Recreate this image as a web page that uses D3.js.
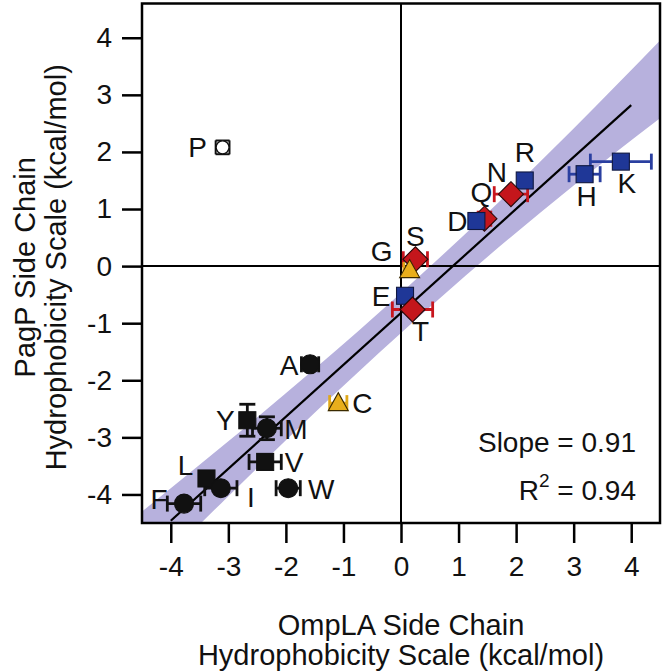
<!DOCTYPE html>
<html><head><meta charset="utf-8">
<script src="https://cdn.jsdelivr.net/npm/d3@7"></script>
<style>body{margin:0;background:#fff}svg{display:block;font-family:"Liberation Sans",Arial,sans-serif}</style>
</head><body>
<svg id="c" width="664" height="671"></svg>
<script>
// ---- data ----
const residues = ["P","R","N","Q","D","H","K","S","G","E","T","A","C","Y","M","V","W","L","I","F"];
const omplaScale = [-3.10, 2.15, 1.91, 1.45, 1.31, 3.19, 3.82, 0.25, 0.15, 0.07, 0.20, -1.58, -1.09, -2.67, -2.33, -2.36, -1.96, -3.38, -3.13, -3.77];
const pagpScale  = [2.08, 1.50, 1.26, 0.83, 0.79, 1.61, 1.83, 0.12, -0.07, -0.52, -0.76, -1.72, -2.40, -2.70, -2.84, -3.43, -3.89, -3.72, -3.89, -4.16];
const omplaErr   = [0.12, 0, 0.29, 0.11, 0.10, 0.27, 0.53, 0.21, 0.10, 0, 0.35, 0.15, 0.15, 0.10, 0.25, 0.28, 0.21, 0.10, 0.28, 0.29];
const pagpErr    = [0.12, 0, 0, 0, 0, 0, 0, 0, 0, 0, 0, 0, 0, 0.28, 0.20, 0, 0, 0, 0, 0];
const groups     = ["open","charged","polar","polar","charged","charged","charged","polar","small","charged","polar","aroCircle","small","aroSquare","aroCircle","aroSquare","aroCircle","aroSquare","aroCircle","aroCircle"];
const fitX = [-4.5, 4.5];
const fitY = [-4.915, 3.275];
const fitDrawX = [-4.0, 4.0];
const bandX  = [-4.5, -3.0, -1.5, 0.0, 1.5, 3.0, 4.5];
const bandHi = [-4.30, -3.07, -1.80, -0.47, 0.93, 2.41, 3.95];
const bandLo = [-5.53, -4.03, -2.57, -1.17, 0.16, 1.41, 2.59];
const xTicks = [-4,-3,-2,-1,0,1,2,3,4];
const yTicks = [-4,-3,-2,-1,0,1,2,3,4];
const slopeText = "Slope = 0.91";
const r2Value = "0.94";
// label offsets (layout, px)
const labelOffsets = [[-25,0],[0,-28],[-14,-22],[-3,-26],[-19,0],[2,22],[6,22],[0,-23],[-28,-19],[-24,1],[8,22],[-21,1],[24,0],[-22,0],[29,1],[29,1],[33,1],[-21,-13],[30,9],[-25,-4]];

// ---- styles ----
const style = {
  charged:{shape:"square", fill:"#1f3797", stroke:"#101840", err:"#2a3fa0"},
  polar:{shape:"diamond", fill:"#c4161c", stroke:"#2a0a0a", err:"#c8161e"},
  small:{shape:"triangle", fill:"#e8ae1c", stroke:"#3a2a00", err:"#e0a81a"},
  aroCircle:{shape:"circle", fill:"#111", stroke:"#111", err:"#111"},
  aroSquare:{shape:"square", fill:"#111", stroke:"#111", err:"#111"},
  open:{shape:"circleOpen", fill:"#fff", stroke:"#111", err:"#111"}
};

const svg = d3.select("#c");
const x = d3.scaleLinear().domain([-4.5, 4.5]).range([142, 660]);
const y = d3.scaleLinear().domain([-4.5, 4.6]).range([523, 3.5]);
const FS = 28;
const TFS = 29;

const defs = svg.append("defs");
defs.append("clipPath").attr("id","clip").append("rect")
  .attr("x",x(-4.5)).attr("y",y(4.6)).attr("width",x(4.5)-x(-4.5)).attr("height",y(-4.5)-y(4.6));

const plot = svg.append("g").attr("clip-path","url(#clip)");

// band
const bandData = bandX.map((v,i)=>({x:v,lo:bandLo[i],hi:bandHi[i]}));
plot.append("path").datum(bandData)
  .attr("d", d3.area().x(d=>x(d.x)).y0(d=>y(d.lo)).y1(d=>y(d.hi)).curve(d3.curveMonotoneX))
  .attr("fill","#b7b1dd");

// zero lines
plot.append("line").attr("x1",x(0)).attr("x2",x(0)).attr("y1",y(4.6)).attr("y2",y(-4.5)).attr("stroke","#000").attr("stroke-width",2);
plot.append("line").attr("x1",x(-4.5)).attr("x2",x(4.5)).attr("y1",y(0)).attr("y2",y(0)).attr("stroke","#000").attr("stroke-width",2);

// fit line
const fitSlope = (fitY[1]-fitY[0])/(fitX[1]-fitX[0]);
const fitAt = v => fitY[0] + fitSlope*(v-fitX[0]);
plot.append("line")
  .attr("x1",x(fitDrawX[0])).attr("y1",y(fitAt(fitDrawX[0])))
  .attr("x2",x(fitDrawX[1])).attr("y2",y(fitAt(fitDrawX[1])))
  .attr("stroke","#000").attr("stroke-width",2.2);

const pts = residues.map((r,i)=>({r,x:omplaScale[i],y:pagpScale[i],ex:omplaErr[i],ey:pagpErr[i],g:groups[i],off:labelOffsets[i]}));

// error bars
const CAP = 8;
const eg = svg.append("g");
pts.forEach(p=>{
  const s = style[p.g];
  const cx = x(p.x), cy = y(p.y);
  const sw = p.g==="open" ? 2 : 2.8;
  const cap = p.g==="open" ? 7 : CAP;
  if (p.ex>0){
    const x1=x(p.x-p.ex), x2=x(p.x+p.ex);
    eg.append("line").attr("x1",x1).attr("x2",x2).attr("y1",cy).attr("y2",cy).attr("stroke",s.err).attr("stroke-width",sw);
    [x1,x2].forEach(xx=>eg.append("line").attr("x1",xx).attr("x2",xx).attr("y1",cy-cap).attr("y2",cy+cap).attr("stroke",s.err).attr("stroke-width",sw));
  }
  if (p.ey>0){
    const y1=y(p.y-p.ey), y2=y(p.y+p.ey);
    eg.append("line").attr("x1",cx).attr("x2",cx).attr("y1",y1).attr("y2",y2).attr("stroke",s.err).attr("stroke-width",sw);
    [y1,y2].forEach(yy=>eg.append("line").attr("x1",cx-cap).attr("x2",cx+cap).attr("y1",yy).attr("y2",yy).attr("stroke",s.err).attr("stroke-width",sw));
  }
});

// markers
const mg = svg.append("g");
pts.forEach(p=>{
  const s = style[p.g];
  const cx = x(p.x), cy = y(p.y);
  let el;
  if (s.shape==="square"){
    el = mg.append("rect").attr("x",cx-8.5).attr("y",cy-8.5).attr("width",17).attr("height",17);
  } else if (s.shape==="diamond"){
    el = mg.append("path").attr("d",`M${cx},${cy-12.5}L${cx+12.5},${cy}L${cx},${cy+12.5}L${cx-12.5},${cy}Z`);
  } else if (s.shape==="triangle"){
    el = mg.append("path").attr("d",`M${cx},${cy-10.5}L${cx+10},${cy+7.5}L${cx-10},${cy+7.5}Z`);
  } else if (s.shape==="circle"){
    el = mg.append("circle").attr("cx",cx).attr("cy",cy).attr("r",9.5);
  } else {
    el = mg.append("circle").attr("cx",cx).attr("cy",cy).attr("r",6.5);
  }
  el.attr("fill",s.fill).attr("stroke",s.stroke).attr("stroke-width",s.shape==="circleOpen"?1.4:1.1);
});

// point labels
svg.append("g").selectAll("text").data(pts).join("text")
  .attr("x",d=>x(d.x)+d.off[0]).attr("y",d=>y(d.y)+d.off[1])
  .attr("text-anchor","middle").attr("dominant-baseline","central")
  .attr("font-size",FS).attr("fill","#111").text(d=>d.r);

// frame
svg.append("rect").attr("x",x(-4.5)).attr("y",y(4.6)).attr("width",x(4.5)-x(-4.5)).attr("height",y(-4.5)-y(4.6))
  .attr("fill","none").attr("stroke","#000").attr("stroke-width",2.5);

// axes
const xAxis = svg.append("g").attr("transform",`translate(0,${y(-4.5)})`)
  .call(d3.axisBottom(x).tickValues(xTicks).tickSize(20).tickPadding(13).tickFormat(d=>String(d)));
const yAxis = svg.append("g").attr("transform",`translate(${x(-4.5)},0)`)
  .call(d3.axisLeft(y).tickValues(yTicks).tickSize(20).tickPadding(10).tickFormat(d=>String(d)));
[xAxis,yAxis].forEach(a=>{
  a.select(".domain").remove();
  a.selectAll(".tick line").attr("stroke","#000").attr("stroke-width",2.5);
  a.selectAll(".tick text").attr("font-size",FS).attr("fill","#111").attr("font-family","Liberation Sans, Arial, sans-serif");
});

// axis titles
const xt = svg.append("text").attr("text-anchor","middle").attr("font-size",TFS).attr("fill","#111");
xt.append("tspan").attr("x",(x(-4.5)+x(4.5))/2).attr("y",635).text("OmpLA Side Chain");
xt.append("tspan").attr("x",(x(-4.5)+x(4.5))/2).attr("y",665).text("Hydrophobicity Scale (kcal/mol)");
const yt = svg.append("text").attr("text-anchor","middle").attr("font-size",TFS).attr("fill","#111")
  .attr("transform",`translate(0,${(y(4.6)+y(-4.5))/2+4}) rotate(-90)`);
yt.append("tspan").attr("x",0).attr("y",35).text("PagP Side Chain");
yt.append("tspan").attr("x",0).attr("y",66).text("Hydrophobicity Scale (kcal/mol)");

// stats
svg.append("text").attr("x",636).attr("y",452).attr("text-anchor","end").attr("font-size",FS).attr("fill","#111").text(slopeText);
const r2 = svg.append("text").attr("x",636).attr("y",500).attr("text-anchor","end").attr("font-size",FS).attr("fill","#111");
r2.append("tspan").text("R");
r2.append("tspan").attr("font-size",19).attr("dy",-13).text("2");
r2.append("tspan").attr("dy",13).text(" = " + r2Value);
</script>
</body></html>
